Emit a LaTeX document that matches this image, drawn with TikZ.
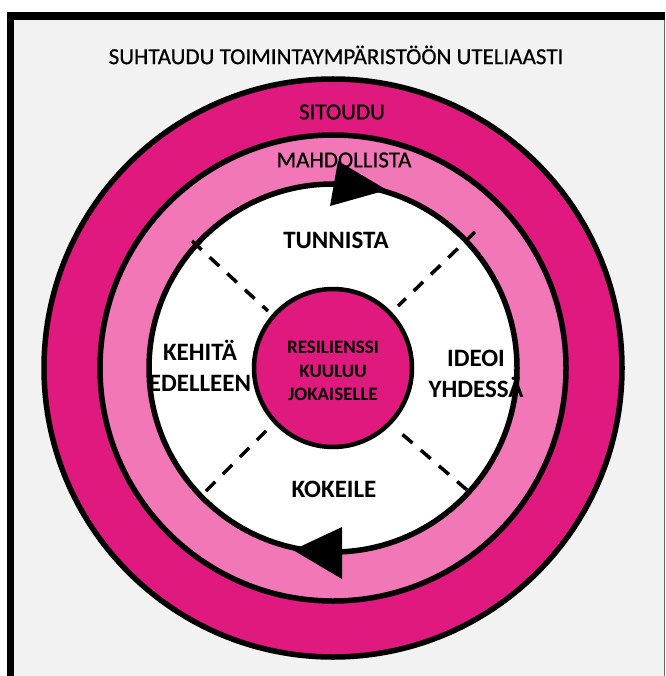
\documentclass[tikz,border=0pt]{standalone}
\usepackage{fontspec}
\setmainfont{Carlito}
\newfontfamily\semibfont[FakeBold=0.6]{Carlito}
\definecolor{darkpink}{HTML}{E0197F}
\definecolor{lightpink}{HTML}{F277B6}
\definecolor{bggray}{HTML}{F2F2F2}
\tikzset{
  ring/.style={draw=black, line width=5.5pt},
  divider/.style={draw=black, line width=3.5pt, dash pattern=on 13pt off 11pt},
  lbl/.style={font=\semibfont\fontsize{23}{25}\selectfont, text=black, align=center, inner sep=0pt},
  blbl/.style={font=\fontsize{25}{30.5}\bfseries\selectfont, text=black, align=center, inner sep=0pt},
  clbl/.style={font=\fontsize{19}{23.5}\bfseries\selectfont, text=black, align=center, inner sep=0pt},
  tip/.style={fill=black, draw=none}
}
\begin{document}
\begin{tikzpicture}[x=1pt,y=-1pt]
\useasboundingbox (0,0) rectangle (665,676);
\fill[white] (0,0) rectangle (665,676);
\fill[bggray] (7,12) rectangle (665,676);
\fill[black] (7,12) rectangle (665,20);
\fill[black] (7,12) rectangle (14,676);
\fill[black!60] (663.5,20) rectangle (665,676);
\coordinate (c) at (333,368);
\node[lbl] (title) at (336,55) {SUHTAUDU TOIMINTAYMPÄRISTÖÖN UTELIAASTI};
\path[ring, fill=darkpink] (c) circle[radius=289];
\path[ring, fill=lightpink] (c) circle[radius=233];
\path[ring, fill=white] (c) circle[radius=184];
\draw[divider] (192,241) -- (268,311);
\draw[divider] (475,232) -- (398,306);
\draw[divider] (206,491) -- (267,430);
\draw[divider] (467,490) -- (395,428);
\path[ring, line width=4.5pt, fill=darkpink] (c) circle[radius=79];
\fill[tip] (387,190) -- (338,161) -- (330,206) -- cycle;
\fill[tip] (293,550) -- (342,527) -- (342,579) -- cycle;
\node[lbl] (sitoudu) at (342,112) {SITOUDU};
\node[lbl] (mahd) at (344,160) {MAHDOLLISTA};
\node[blbl] (tunnista) at (336,240) {TUNNISTA};
\node[blbl] (kehita) at (200,366) {KEHITÄ\\EDELLEEN};
\node[blbl] (ideoi) at (476,374) {IDEOI\\YHDESSÄ};
\node[blbl] (kokeile) at (334,489) {KOKEILE};
\node[clbl] (center) at (333,371) {RESILIENSSI\\KUULUU\\JOKAISELLE};
\end{tikzpicture}
\end{document}
